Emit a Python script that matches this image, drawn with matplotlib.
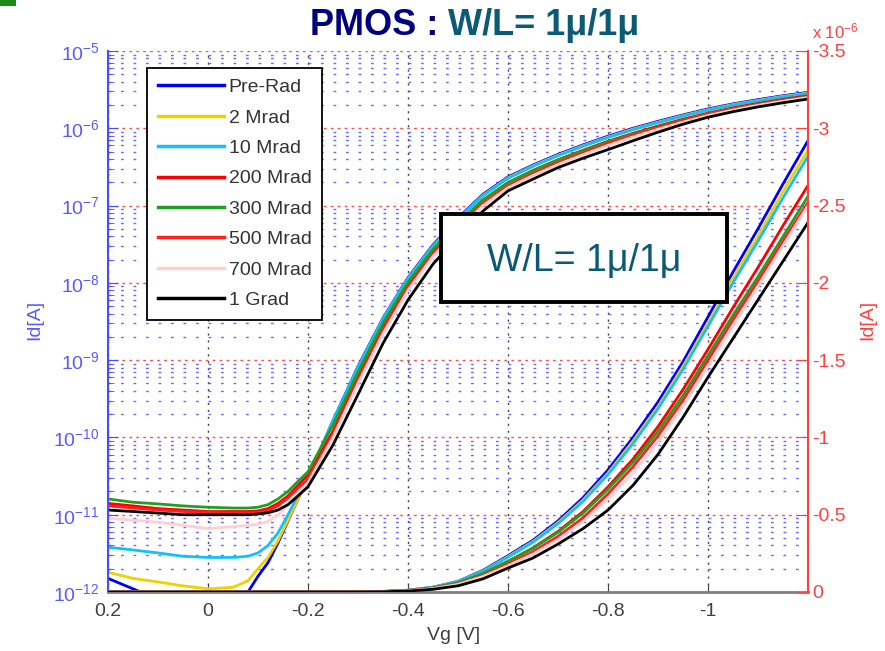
import numpy as np
import matplotlib.pyplot as plt
from matplotlib.ticker import FixedLocator, FuncFormatter, LogLocator, NullFormatter
from matplotlib.patches import Rectangle

plt.rcParams['font.family'] = ['Liberation Sans', 'DejaVu Sans']
plt.rcParams['mathtext.default'] = 'regular'

# gate voltage [V]
vg = [0.2, 0.15, 0.1, 0.05, 0.0, -0.05, -0.08, -0.1, -0.12, -0.14, -0.16, -0.18,
      -0.2, -0.25, -0.3, -0.35, -0.4, -0.45, -0.5, -0.55, -0.6, -0.65, -0.7,
      -0.75, -0.8, -0.85, -0.9, -0.95, -1.0, -1.05, -1.1, -1.15, -1.2]

# |Id| [A] for each dose
pre_rad = [1.5e-12, 1.1e-12, 8e-13, 7e-13, 7e-13, 8e-13, 1.0e-12, 1.6e-12, 2.4e-12, 4.3e-12, 8.3e-12, 1.6e-11,
           3.0e-11, 1.65e-10, 8.3e-10, 3.5e-9, 1.17e-8, 3.1e-8, 6.9e-8, 1.4e-7, 2.35e-7, 3.35e-7, 4.6e-7,
           6.1e-7, 7.9e-7, 1.0e-6, 1.23e-6, 1.49e-6, 1.78e-6, 2.07e-6, 2.35e-6, 2.64e-6, 2.92e-6]
mrad_2 = [1.8e-12, 1.5e-12, 1.35e-12, 1.2e-12, 1.1e-12, 1.15e-12, 1.4e-12, 2.0e-12, 2.8e-12, 4.6e-12, 8.5e-12, 1.6e-11,
          2.9e-11, 1.6e-10, 8.0e-10, 3.4e-9, 1.14e-8, 3.0e-8, 6.7e-8, 1.36e-7, 2.29e-7, 3.27e-7, 4.49e-7,
          5.95e-7, 7.7e-7, 9.77e-7, 1.2e-6, 1.46e-6, 1.74e-6, 2.03e-6, 2.3e-6, 2.59e-6, 2.86e-6]
mrad_10 = [3.8e-12, 3.5e-12, 3.2e-12, 2.9e-12, 2.8e-12, 2.8e-12, 2.9e-12, 3.2e-12, 4.0e-12, 5.8e-12, 1.0e-11, 1.8e-11,
           3.0e-11, 1.65e-10, 8.1e-10, 3.4e-9, 1.13e-8, 2.98e-8, 6.6e-8, 1.34e-7, 2.25e-7, 3.22e-7, 4.42e-7,
           5.86e-7, 7.6e-7, 9.6e-7, 1.185e-6, 1.44e-6, 1.72e-6, 2.0e-6, 2.27e-6, 2.55e-6, 2.82e-6]
mrad_200 = [1.4e-11, 1.3e-11, 1.2e-11, 1.15e-11, 1.1e-11, 1.1e-11, 1.1e-11, 1.12e-11, 1.2e-11, 1.4e-11, 1.75e-11, 2.4e-11,
            3.3e-11, 1.2e-10, 6.2e-10, 2.7e-9, 9.5e-9, 2.55e-8, 5.7e-8, 1.17e-7, 1.98e-7, 2.85e-7, 3.92e-7,
            5.2e-7, 6.8e-7, 8.6e-7, 1.07e-6, 1.31e-6, 1.57e-6, 1.84e-6, 2.1e-6, 2.37e-6, 2.63e-6]
mrad_300 = [1.6e-11, 1.45e-11, 1.38e-11, 1.3e-11, 1.25e-11, 1.22e-11, 1.22e-11, 1.25e-11, 1.35e-11, 1.6e-11, 2.0e-11, 2.7e-11,
            3.6e-11, 1.45e-10, 7.0e-10, 3.0e-9, 1.02e-8, 2.7e-8, 5.9e-8, 1.19e-7, 1.98e-7, 2.82e-7, 3.86e-7,
            5.1e-7, 6.65e-7, 8.4e-7, 1.04e-6, 1.27e-6, 1.53e-6, 1.79e-6, 2.04e-6, 2.3e-6, 2.56e-6]
mrad_500 = [1.3e-11, 1.22e-11, 1.15e-11, 1.1e-11, 1.07e-11, 1.05e-11, 1.05e-11, 1.07e-11, 1.13e-11, 1.3e-11, 1.65e-11, 2.2e-11,
            2.9e-11, 1.1e-10, 5.6e-10, 2.45e-9, 8.7e-9, 2.35e-8, 5.2e-8, 1.06e-7, 1.8e-7, 2.6e-7, 3.6e-7,
            4.8e-7, 6.35e-7, 8.1e-7, 1.01e-6, 1.24e-6, 1.5e-6, 1.76e-6, 2.01e-6, 2.27e-6, 2.52e-6]
mrad_700 = [9e-12, 8.5e-12, 8e-12, 7.3e-12, 6.6e-12, 7e-12, 7.3e-12, 7.5e-12, 8.2e-12, 9.8e-12, 1.35e-11, 1.95e-11,
            2.6e-11, 1.0e-10, 5.0e-10, 2.2e-9, 8.0e-9, 2.2e-8, 4.9e-8, 1.0e-7, 1.7e-7, 2.45e-7, 3.4e-7,
            4.55e-7, 6.0e-7, 7.7e-7, 9.7e-7, 1.2e-6, 1.46e-6, 1.72e-6, 1.98e-6, 2.24e-6, 2.5e-6]
grad_1 = [1.15e-11, 1.1e-11, 1.05e-11, 1.0e-11, 1.0e-11, 1.0e-11, 1.0e-11, 1.02e-11, 1.06e-11, 1.15e-11, 1.35e-11, 1.75e-11,
          2.3e-11, 8.0e-11, 3.6e-10, 1.65e-9, 6.0e-9, 1.75e-8, 4.0e-8, 8.5e-8, 1.55e-7, 2.2e-7, 3.1e-7,
          4.1e-7, 5.3e-7, 6.9e-7, 8.9e-7, 1.13e-6, 1.39e-6, 1.64e-6, 1.89e-6, 2.14e-6, 2.39e-6]

labels = ['Pre-Rad', '2 Mrad', '10 Mrad', '200 Mrad', '300 Mrad', '500 Mrad', '700 Mrad', '1 Grad']
data = [pre_rad, mrad_2, mrad_10, mrad_200, mrad_300, mrad_500, mrad_700, grad_1]
colors = ['#0000ff', '#f0d000', '#10c0ff', '#ff0000', '#20a020', '#ff2020', '#ffd0d0', '#000000']

W, H = 885, 651
fig = plt.figure(figsize=(W / 100, H / 100), dpi=100)
fig.patch.set_facecolor('white')
ax = fig.add_axes([108 / W, 1 - 592 / H, 700 / W, 541 / H])
ax.set_yscale('log')
ax.set_xlim(0.2, -1.2)
ax.set_ylim(1e-12, 1e-5)

# grid: blue dotted minor, red dotted decades, black dotted x
ax.yaxis.set_major_locator(LogLocator(base=10, numticks=20))
ax.yaxis.set_minor_locator(LogLocator(base=10, subs=np.arange(2, 10), numticks=20))
ax.yaxis.set_minor_formatter(NullFormatter())
ax.grid(which='minor', axis='y', color='#6a6aff', linestyle=(0, (2, 7)), lw=1.0)
ax.grid(which='major', axis='y', color='#ff5050', linestyle=(0, (2, 3)), lw=1.0)
ax.xaxis.set_major_locator(FixedLocator([0.2, 0, -0.2, -0.4, -0.6, -0.8, -1.0, -1.2]))
ax.set_xticklabels(['0.2', '0', '-0.2', '-0.4', '-0.6', '-0.8', '-1', ''])
ax.grid(which='major', axis='x', color='#404040', linestyle=(0, (1.5, 3.5)), lw=1.0)
ax.set_axisbelow(True)

handles = []
for lab, vals, c in zip(labels, data, colors):
    h, = ax.plot(vg, vals, color=c, lw=2.0, label=lab)
    handles.append(h)

ax2 = ax.twinx()
ax2.set_ylim(0, -3.5e-6)
for vals, c in zip(data, colors):
    ax2.plot(vg, -np.array(vals), color=c, lw=2.0)

ax2.yaxis.set_major_locator(FixedLocator([0, -0.5e-6, -1e-6, -1.5e-6, -2e-6, -2.5e-6, -3e-6, -3.5e-6]))
ax2.yaxis.set_major_formatter(FuncFormatter(lambda v, p: f"{round(v * 1e6, 2) + 0.0:g}"))

# spines and ticks
for a in (ax, ax2):
    a.spines['top'].set_visible(False)
ax.spines['right'].set_visible(False)
ax2.spines['left'].set_visible(False)
ax2.spines['bottom'].set_visible(False)
ax.spines['left'].set_color('#4a4aff')
ax.spines['left'].set_linewidth(1.5)
ax.spines['bottom'].set_color('#808080')
ax.spines['bottom'].set_linewidth(2.0)
ax2.spines['right'].set_color('#ff4040')
ax2.spines['right'].set_linewidth(1.5)

ax.tick_params(axis='x', direction='in', length=6, color='#404040', labelcolor='#404040',
               labelsize=14, pad=8)
ax.tick_params(axis='y', which='major', direction='in', length=7, color='#4a4aff',
               labelcolor='#5a5aff', labelsize=14, pad=6)
ax.tick_params(axis='y', which='minor', direction='in', length=4, color='#4a4aff')
ax2.tick_params(axis='y', direction='in', length=8, color='#ff4040', labelcolor='#ff4040',
                labelsize=14, pad=3)

fig.text(35 / W, 1 - 320 / H, 'Id[A]', color='#5a5aff', fontsize=14, rotation=90,
         ha='center', va='center')
fig.text(868 / W, 1 - 320 / H, 'Id[A]', color='#ff4040', fontsize=14, rotation=90,
         ha='center', va='center')
fig.text(454 / W, 1 - 636 / H, 'Vg [V]', color='#404040', fontsize=14, ha='center', va='center')
fig.text(812 / W, 1 - 38 / H, 'x 10$^{-6}$', color='#ff4040', fontsize=12, ha='left', va='baseline')

# title in two colours
fig.text(448 / W, 1 - 35 / H, 'PMOS : ', color='#00007f', fontsize=26, fontweight='bold',
         ha='right', va='baseline')
fig.text(448 / W, 1 - 35 / H, 'W/L= 1\u03bc/1\u03bc', color='#0b5a76', fontsize=26, fontweight='bold',
         ha='left', va='baseline')

leg = ax2.legend(handles, labels, loc='upper left', bbox_to_anchor=(0.056, 0.969), borderaxespad=0,
                 fancybox=False, edgecolor='black', framealpha=1, fontsize=14, handlelength=3.4,
                 labelspacing=0.66, borderpad=0.55, handletextpad=0.25)
leg.get_frame().set_linewidth(1.3)
for t in leg.get_texts():
    t.set_color('#333333')
for lh in leg.get_lines():
    lh.set_linewidth(2.5)
leg.set_zorder(10)

box = Rectangle((0.476, 0.536), 0.408, 0.163, transform=ax2.transAxes, fc='white', ec='black',
                lw=2.8, zorder=11)
ax2.add_patch(box)
ax2.text(0.680, 0.612, 'W/L= 1\u03bc/1\u03bc', transform=ax2.transAxes, color='#0b5a74', fontsize=27,
         ha='center', va='center', zorder=12)

# small green corner mark
fig.patches.append(Rectangle((0, 1 - 6 / H), 16 / W, 6 / H, transform=fig.transFigure,
                             fc='#1a8a1a', ec='none'))

fig.savefig('out.png', dpi=100)
